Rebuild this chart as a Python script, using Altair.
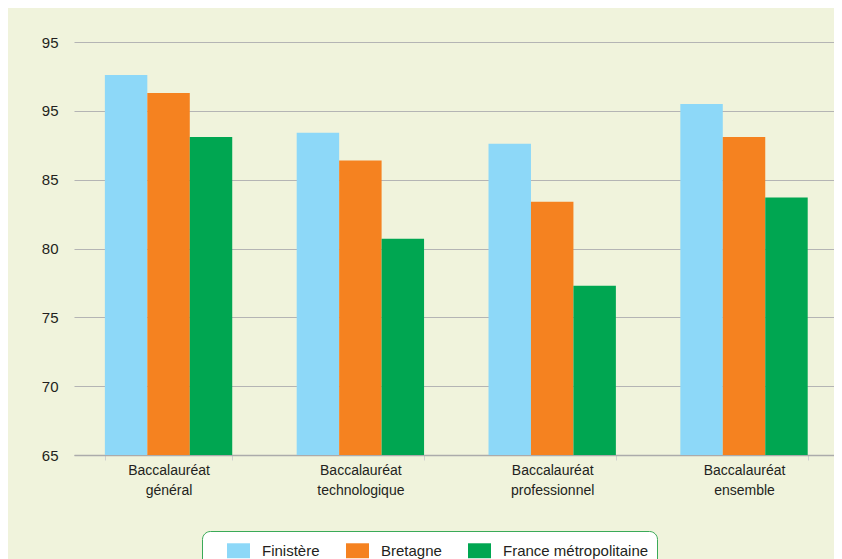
import altair as alt
import pandas as pd

categories = ["Baccalauréat\ngénéral", "Baccalauréat\ntechnologique",
              "Baccalauréat\nprofessionnel", "Baccalauréat\nensemble"]
series = ["Finistère", "Bretagne", "France métropolitaine"]
finistere = [92.6, 88.4, 87.6, 90.5]
bretagne = [91.3, 86.4, 83.4, 88.1]
france = [88.1, 80.7, 77.3, 83.7]
colors = ["#8DD8F8", "#F58220", "#00A651"]
y_ticks = [65, 70, 75, 80, 85, 90, 95]
y_tick_labels = ["65", "70", "75", "80", "85", "95", "95"]

rows = []
for name, vals in zip(series, [finistere, bretagne, france]):
    for c, v in zip(categories, vals):
        rows.append({"cat": c, "serie": name, "val": v})
df = pd.DataFrame(rows)

expr = "''"
for v, l in zip(reversed(y_ticks), reversed(y_tick_labels)):
    expr = f"datum.value == {v} ? '{l}' : ({expr})"

FONT = "Liberation Sans, Arial, sans-serif"

chart = alt.Chart(df).mark_bar(clip=True).encode(
    x=alt.X("cat:N", sort=categories,
            scale=alt.Scale(paddingInner=0.336, paddingOuter=0.149, align=0.54),
            axis=alt.Axis(title=None, labelAngle=0, labelExpr="split(datum.label, '\\n')",
                          domainColor="#ABABAB", domainWidth=1.5, ticks=True,
                          tickBand="extent", tickSize=5, tickColor="#D0D0D0",
                          labelFontSize=14, labelPadding=3, labelLineHeight=20,
                          labelColor="#231F20", labelFont=FONT, grid=False)),
    xOffset=alt.XOffset("serie:N", sort=series,
                        scale=alt.Scale(paddingInner=0, paddingOuter=0)),
    y=alt.Y("val:Q", scale=alt.Scale(domain=[65, 95], zero=False, nice=False),
            axis=alt.Axis(title=None, values=y_ticks, labelExpr=expr, grid=True,
                          gridColor="#B4B4B4", gridWidth=1.2, domain=False, ticks=False,
                          tickSize=0, labelPadding=16, labelFontSize=15,
                          labelColor="#231F20", labelFont=FONT)),
    color=alt.Color("serie:N", sort=series,
                    scale=alt.Scale(domain=series, range=colors),
                    legend=alt.Legend(title=None, orient="none", legendX=128, legendY=489,
                                      direction="horizontal",
                                      symbolType="M-1,-0.65L1,-0.65L1,0.65L-1,0.65Z",
                                      symbolSize=529, symbolStrokeWidth=0,
                                      symbolOffset=17, labelLimit=400,
                                      labelFontSize=15, labelFont=FONT, labelColor="#231F20",
                                      labelOffset=12, columnPadding=9, padding=8,
                                      cornerRadius=8, strokeColor="#3AAA58",
                                      fillColor="white")),
).properties(
    width=760, height=413,
    autosize=alt.AutoSizeParams(type="none"),
    padding={"left": 66, "top": 34, "right": 0, "bottom": 104},
    background="#F0F3DC",
).configure_view(stroke=None)

chart.save("out.html", embed_options={"renderer": "svg", "actions": False})
